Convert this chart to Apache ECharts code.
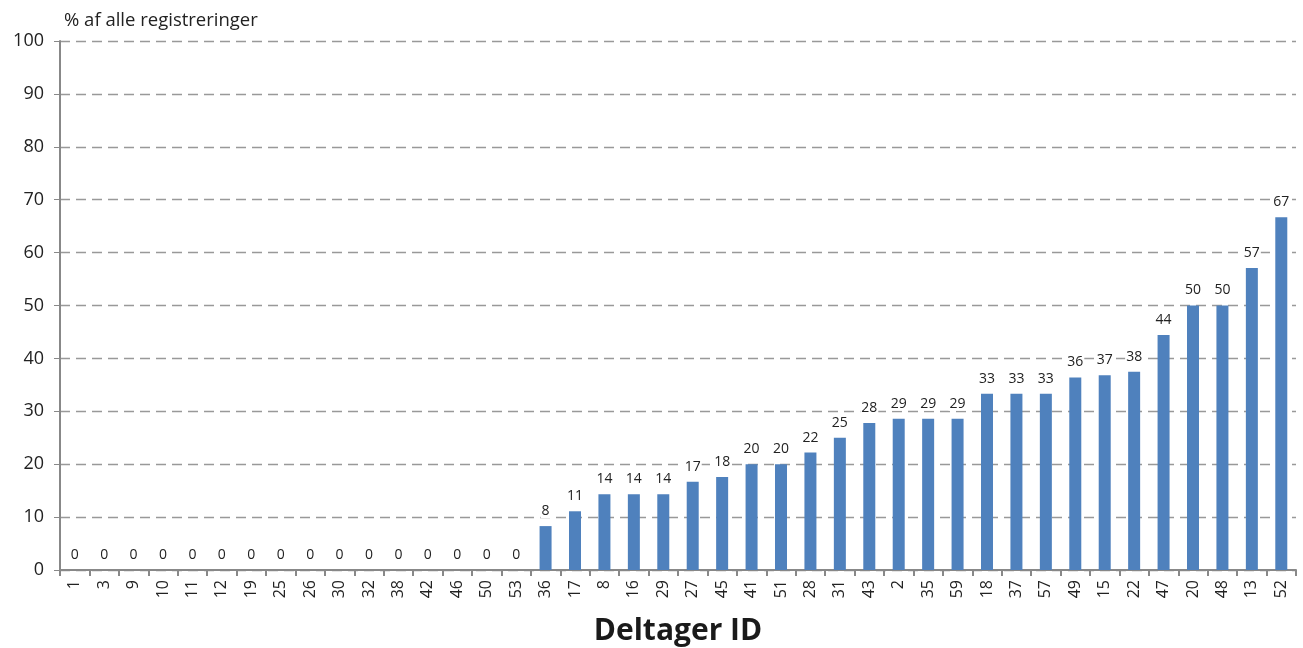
<!DOCTYPE html>
<html><head><meta charset="utf-8">
<script src="https://cdn.jsdelivr.net/npm/echarts@6/dist/echarts.min.js"></script>
<style>html,body{margin:0;padding:0;background:#fff}#c{width:1303px;height:648px}</style>
</head><body><div id="c"></div>
<script>
const categories = ['1','3','9','10','11','12','19','25','26','30','32','38','42','46','50','53','36','17','8','16','29','27','45','41','51','28','31','43','2','35','59','18','37','57','49','15','22','47','20','48','13','52'];
const values = [0,0,0,0,0,0,0,0,0,0,0,0,0,0,0,0,8.3,11.1,14.3,14.3,14.3,16.7,17.6,20,20,22.2,25,27.8,28.6,28.6,28.6,33.3,33.3,33.3,36.4,36.8,37.5,44.4,50,50,57.1,66.7];
const yTicks = [0,10,20,30,40,50,60,70,80,90,100];
const font = 'Open Sans, Liberation Sans, sans-serif';
const chart = echarts.init(document.getElementById('c'), null, {renderer:'canvas'});
chart.setOption({
  animation:false,
  grid:{left:60,right:7,top:41,bottom:78},
  title:{text:'Deltager ID',left:673,textAlign:'center',top:611,textStyle:{fontFamily:font,fontSize:30,fontWeight:'bold',color:'#1a1a1a'}},
  xAxis:{type:'category',data:categories,
    axisLine:{lineStyle:{color:'#888',width:2}},
    axisTick:{show:true,length:6,lineStyle:{color:'#888',width:2}},
    axisLabel:{rotate:90,fontFamily:font,fontSize:16,color:'#222',margin:10,interval:0}},
  yAxis:{type:'value',min:yTicks[0],max:yTicks[yTicks.length-1],interval:10,
    name:'% af alle registreringer',nameLocation:'end',nameGap:11,
    nameTextStyle:{fontFamily:font,fontSize:18.5,color:'#222',align:'left',padding:[0,0,0,4]},
    axisLine:{show:true,lineStyle:{color:'#888',width:2}},
    axisTick:{show:true,length:6,inside:false,lineStyle:{color:'#888',width:1}},
    splitLine:{lineStyle:{color:'#999',type:[10,6],width:1.3}},
    axisLabel:{fontFamily:font,fontSize:18,color:'#222',margin:16}},
  series:[{type:'bar',data:values,barWidth:12,
    itemStyle:{color:'#4F81BD'},
    label:{show:true,position:'top',distance:8,fontFamily:font,fontSize:14,color:'#222',
      backgroundColor:'#fff',padding:[0,1],
      formatter:p=>Math.round(p.value)}}]
});
</script></body></html>
